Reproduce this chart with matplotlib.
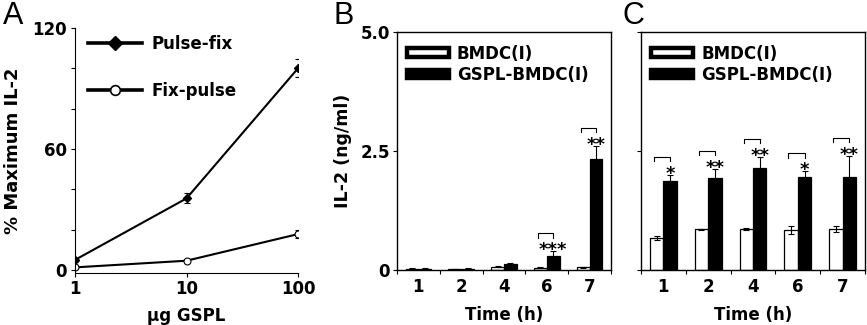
import matplotlib
matplotlib.use("Agg")
import matplotlib.pyplot as plt
import numpy as np
from matplotlib.lines import Line2D
from matplotlib.patches import Patch

# ---------------- data ----------------
dose = [1, 10, 100]
pulse_fix = [5, 35.5, 100]
pulse_fix_err = [0.8, 2.5, 4.5]
fix_pulse = [1.3, 4.6, 17.8]
fix_pulse_err = [0.5, 0.8, 2.0]

times = ["1", "2", "4", "6", "7"]
b_bmdc = [0.03, 0.02, 0.07, 0.05, 0.06]
b_bmdc_err = [0.005, 0.005, 0.01, 0.01, 0.01]
b_gspl = [0.03, 0.03, 0.12, 0.29, 2.33]
b_gspl_err = [0.005, 0.005, 0.03, 0.10, 0.28]
b_sig = ["", "", "", "***", "**"]

c_bmdc = [0.67, 0.86, 0.86, 0.84, 0.86]
c_bmdc_err = [0.04, 0.01, 0.03, 0.09, 0.07]
c_gspl = [1.88, 1.94, 2.14, 1.96, 1.96]
c_gspl_err = [0.11, 0.18, 0.24, 0.11, 0.43]
c_sig = ["*", "**", "**", "*", "**"]

# ---------------- figure ----------------
W, H = 867, 325
fig = plt.figure(figsize=(W / 100, H / 100), dpi=100)
plt.rcParams['font.family'] = ['DejaVu Sans']
FS = 12

def ax_px(l, t, r, b):
    return fig.add_axes([l / W, (H - b) / H, (r - l) / W, (b - t) / H])

# ---------------- Panel A ----------------
axA = ax_px(75, 28, 298, 272.7)
axA.set_xscale('log')
axA.errorbar(dose, pulse_fix, yerr=pulse_fix_err, color='black', lw=1.5,
             marker='D', ms=4.5, mfc='black', capsize=2, elinewidth=0.8, capthick=0.8)
axA.errorbar(dose, fix_pulse, yerr=fix_pulse_err, color='black', lw=1.5,
             marker='o', ms=5, mfc='white', mec='black', mew=0.8,
             capsize=2, elinewidth=0.8, capthick=0.8)
axA.set_xlim(1, 100)
axA.set_ylim(-1.34, 120)
axA.set_yticks([0, 60, 120])
axA.set_yticks([20, 40, 80, 100], minor=True)
axA.set_xticks([1, 10, 100])
axA.set_xticklabels(["1", "10", "100"])
axA.xaxis.set_minor_locator(matplotlib.ticker.NullLocator())
for s in ['top', 'right']:
    axA.spines[s].set_visible(False)
for s in ['left', 'bottom']:
    axA.spines[s].set_linewidth(0.8)
axA.tick_params(axis='both', which='both', length=3, width=0.8, labelsize=FS, pad=3)
axA.tick_params(axis='x', pad=2)
for lab in axA.get_xticklabels() + axA.get_yticklabels():
    lab.set_fontweight('bold')
axA.set_ylabel("% Maximum IL-2", fontsize=13, fontweight='bold', labelpad=7)
axA.set_xlabel("\u03bcg GSPL", fontsize=FS, fontweight='bold', labelpad=7)
hA = [Line2D([], [], color='black', lw=2.6, marker='D', ms=7.5, mfc='black'),
      Line2D([], [], color='black', lw=2.6, marker='o', ms=7, mfc='white', mew=1.2)]
axA.legend(hA, ["Pulse-fix", "Fix-pulse"], loc='upper left', frameon=False,
           prop={'size': FS, 'weight': 'bold'}, handlelength=3.2, labelspacing=1.75,
           borderaxespad=0.0, bbox_to_anchor=(0.03, 1.0), handletextpad=0.6)

# ---------------- bar panels ----------------
def bar_panel(ax, bmdc, bmdc_err, gspl, gspl_err, sig, show_labels):
    x = np.arange(len(times))
    w = 0.3
    ekw = dict(elinewidth=0.8, capsize=2, capthick=0.8, ecolor='black')
    ax.bar(x - w / 2, bmdc, w, yerr=bmdc_err, color='white', edgecolor='black',
           linewidth=0.9, error_kw=ekw, zorder=2)
    ax.bar(x + w / 2, gspl, w, yerr=gspl_err, color='black', edgecolor='black',
           linewidth=0.9, error_kw=ekw, zorder=2)
    for i, s in enumerate(sig):
        if not s:
            continue
        top = gspl[i] + gspl_err[i]
        ys = top + 0.14
        yb = ys + 0.24
        x0, x1 = x[i] - w / 2 - 0.06, x[i] + w / 2
        ax.plot([x0, x0, x1, x1], [yb - 0.09, yb, yb, yb - 0.09], color='black', lw=0.8)
        ax.text(x[i] + w / 2, ys - 0.22, s, ha='center', va='baseline', fontsize=13,
                fontweight='bold')
    ax.set_xlim(-0.5, len(times) - 0.5)
    ax.set_ylim(0, 5)
    ax.set_xticks(np.arange(len(times) + 1) - 0.5)
    ax.set_xticklabels([])
    ax.set_xticks(x, minor=True)
    ax.set_xticklabels(times, minor=True)
    ax.tick_params(axis='x', which='major', length=3, width=0.8)
    ax.tick_params(axis='x', which='minor', length=0, labelsize=FS, pad=6)
    ax.set_yticks([0, 2.5, 5])
    ax.tick_params(axis='y', length=3, width=0.8, labelsize=FS, pad=2)
    if show_labels:
        ax.set_yticklabels(["0", "2.5", "5.0"])
    else:
        ax.set_yticklabels([])
    for lab in ax.get_xticklabels(minor=True) + ax.get_yticklabels():
        lab.set_fontweight('bold')
    for s in ax.spines.values():
        s.set_linewidth(1.0)
    ax.set_xlabel("Time (h)", fontsize=FS, fontweight='bold', labelpad=7)
    hB = [Patch(facecolor='white', edgecolor='black', linewidth=3.2),
          Patch(facecolor='black', edgecolor='black', linewidth=3.2)]
    ax.legend(hB, ["BMDC(I)", "GSPL-BMDC(I)"], loc='upper left', frameon=False,
              prop={'size': FS, 'weight': 'bold'}, handlelength=2.5, handleheight=0.4,
              labelspacing=0.2, handletextpad=0.5, borderaxespad=0.0,
              bbox_to_anchor=(0.015, 0.975))

axB = ax_px(397, 32, 611, 270)
bar_panel(axB, b_bmdc, b_bmdc_err, b_gspl, b_gspl_err, b_sig, True)
axB.set_ylabel("IL-2 (ng/ml)", fontsize=12.5, fontweight='bold', labelpad=6)

axC = ax_px(641, 32, 865, 270)
bar_panel(axC, c_bmdc, c_bmdc_err, c_gspl, c_gspl_err, c_sig, False)

# panel letters
for lbl, xp in [("A", 3), ("B", 333), ("C", 622)]:
    fig.text(xp / W, 1 - 1 / H, lbl, fontsize=22, family='Liberation Sans',
             ha='left', va='top')

fig.savefig("out.png", dpi=100)
